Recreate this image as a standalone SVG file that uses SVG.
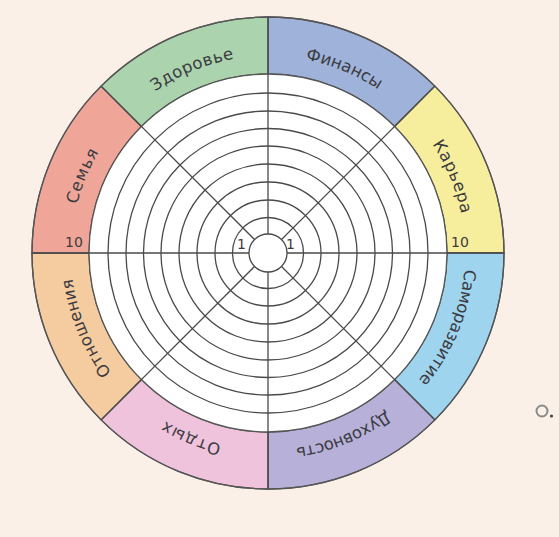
<svg xmlns="http://www.w3.org/2000/svg" xmlns:xlink="http://www.w3.org/1999/xlink" width="559" height="537" viewBox="0 0 559 537">
<style>
.lbl{font-family:"DejaVu Sans","Noto Sans",sans-serif;font-size:16.5px;fill:#3b3b3f;}
.num{font-family:"DejaVu Sans","Noto Sans",sans-serif;font-size:14px;fill:#3b3b3f;text-anchor:middle;}
.sec{stroke:#555555;stroke-width:1.3;}
.ring{fill:none;stroke:#4a4a4a;stroke-width:1.3;}
.spoke{stroke:#4a4a4a;stroke-width:1.3;}
</style>
<defs>
<path id="tp" d="M 268 56 A 197 197 0 1 1 268 450 A 197 197 0 1 1 268 56"/>
</defs>
<rect width="559" height="537" fill="#faf0e8"/>
<g id="sectors">
<g id="finansy">
<path class="sec" fill="#9fb2d9" d="M268 17 A236 236 0 0 1 434.88 86.12 L394.57 126.43 A179 179 0 0 0 268 74 Z"/>
<text class="lbl" text-anchor="middle"><textPath xlink:href="#tp" href="#tp" startOffset="77.36" textLength="79" lengthAdjust="spacing">Финансы</textPath></text>
</g>
<g id="karera">
<path class="sec" fill="#f6ee9c" d="M434.88 86.12 A236 236 0 0 1 504 253 L447 253 A179 179 0 0 0 394.57 126.43 Z"/>
<text class="lbl" text-anchor="middle"><textPath xlink:href="#tp" href="#tp" startOffset="232.09" textLength="76" lengthAdjust="spacing">Карьера</textPath></text>
</g>
<g id="samorazvitie">
<path class="sec" fill="#9fd4ef" d="M504 253 A236 236 0 0 1 434.88 419.88 L394.57 379.57 A179 179 0 0 0 447 253 Z"/>
<text class="lbl" text-anchor="middle"><textPath xlink:href="#tp" href="#tp" startOffset="386.81" textLength="122" lengthAdjust="spacing">Саморазвитие</textPath></text>
</g>
<g id="dukhovnost">
<path class="sec" fill="#b7b0d9" d="M434.88 419.88 A236 236 0 0 1 268 489 L268 432 A179 179 0 0 0 394.57 379.57 Z"/>
<text class="lbl" text-anchor="middle"><textPath xlink:href="#tp" href="#tp" startOffset="541.53" textLength="99" lengthAdjust="spacing">Духовность</textPath></text>
</g>
<g id="otdykh">
<path class="sec" fill="#efc3dc" d="M268 489 A236 236 0 0 1 101.12 419.88 L141.43 379.57 A179 179 0 0 0 268 432 Z"/>
<text class="lbl" text-anchor="middle"><textPath xlink:href="#tp" href="#tp" startOffset="696.26" textLength="61" lengthAdjust="spacing">Отдых</textPath></text>
</g>
<g id="otnosheniya">
<path class="sec" fill="#f5cba0" d="M101.12 419.88 A236 236 0 0 1 32 253 L89 253 A179 179 0 0 0 141.43 379.57 Z"/>
<text class="lbl" text-anchor="middle"><textPath xlink:href="#tp" href="#tp" startOffset="850.98" textLength="103" lengthAdjust="spacing">Отношения</textPath></text>
</g>
<g id="semya">
<path class="sec" fill="#efa699" d="M32 253 A236 236 0 0 1 101.12 86.12 L141.43 126.43 A179 179 0 0 0 89 253 Z"/>
<text class="lbl" text-anchor="middle"><textPath xlink:href="#tp" href="#tp" startOffset="1005.70" textLength="57" lengthAdjust="spacing">Семья</textPath></text>
<text class="num" x="74" y="247">10</text>
</g>
<g id="zdorove">
<path class="sec" fill="#aad3ae" d="M101.12 86.12 A236 236 0 0 1 268 17 L268 74 A179 179 0 0 0 141.43 126.43 Z"/>
<text class="lbl" text-anchor="middle"><textPath xlink:href="#tp" href="#tp" startOffset="1160.43" textLength="86" lengthAdjust="spacing">Здоровье</textPath></text>
</g>
</g>
<g id="grid">
<circle cx="268" cy="253" r="179" fill="#ffffff" stroke="#555555" stroke-width="1.3"/>
<circle class="ring" cx="268" cy="253" r="160"/>
<circle class="ring" cx="268" cy="253" r="142"/>
<circle class="ring" cx="268" cy="253" r="124.5"/>
<circle class="ring" cx="268" cy="253" r="107"/>
<circle class="ring" cx="268" cy="253" r="89"/>
<circle class="ring" cx="268" cy="253" r="71"/>
<circle class="ring" cx="268" cy="253" r="53"/>
<circle class="ring" cx="268" cy="253" r="35.5"/>
</g>
<g id="connectors">
<line class="spoke" x1="268" y1="17" x2="268" y2="489"/>
<line class="spoke" x1="32" y1="253" x2="504" y2="253"/>
<line class="spoke" x1="101.12" y1="86.12" x2="434.88" y2="419.88"/>
<line class="spoke" x1="434.88" y1="86.12" x2="101.12" y2="419.88"/>
</g>
<g id="center">
<circle cx="268" cy="253" r="19" fill="#ffffff" stroke="#4a4a4a" stroke-width="1.3"/>
<text class="num" x="241.5" y="249">1</text>
<text class="num" x="290.5" y="249">1</text>
<text class="num" x="460" y="247">10</text>
</g>
<circle cx="268" cy="253" r="236" fill="none" stroke="#555555" stroke-width="1.3"/>
<g id="cursor">
<circle cx="542" cy="411" r="5.5" fill="none" stroke="#8a8a8a" stroke-width="2"/>
<circle cx="551.5" cy="416" r="1.6" fill="#444"/>
</g>
</svg>
